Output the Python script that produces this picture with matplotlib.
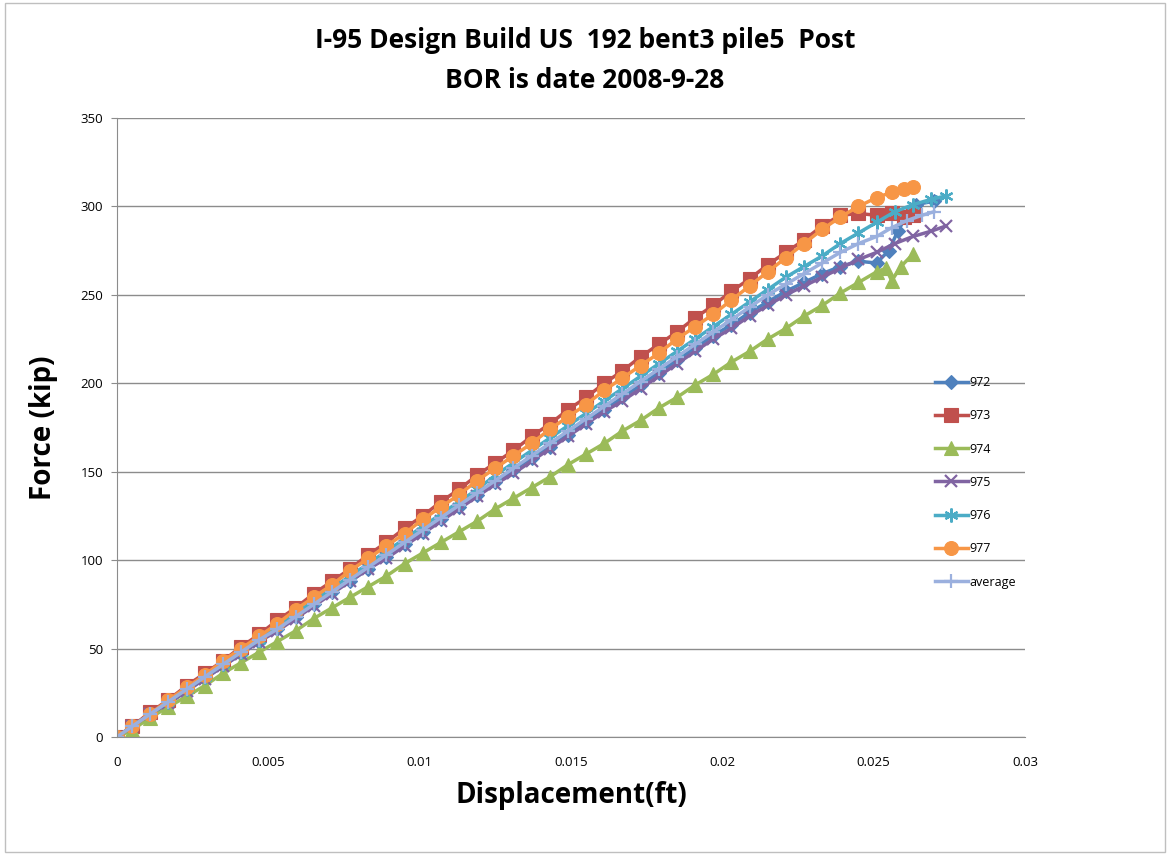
import matplotlib
matplotlib.use("Agg")
import matplotlib.pyplot as plt
from matplotlib.patches import Rectangle
from matplotlib.ticker import FuncFormatter, MultipleLocator

# displacement (ft) shared by all gauges up to 0.0251, then each gauge has its own tail
DISP_COMMON = [0, 0.0005, 0.0011, 0.0017, 0.0023, 0.0029, 0.0035, 0.0041, 0.0047, 0.0053,
               0.0059, 0.0065, 0.0071, 0.0077, 0.0083, 0.0089, 0.0095, 0.0101, 0.0107, 0.0113,
               0.0119, 0.0125, 0.0131, 0.0137, 0.0143, 0.0149, 0.0155, 0.0161, 0.0167, 0.0173,
               0.0179, 0.0185, 0.0191, 0.0197, 0.0203, 0.0209, 0.0215, 0.0221, 0.0227, 0.0233,
               0.0239, 0.0245, 0.0251]

TAIL_972 = [0.0255, 0.0258, 0.0261, 0.0264, 0.0270]
F_972 = [0, 5, 12, 19, 26, 33, 40, 47, 54, 61, 68, 75, 82, 88, 95, 102, 109, 116, 123, 130,
         137, 144, 151, 158, 164, 171, 178, 185, 192, 199, 206, 213, 220, 227, 233, 240, 246,
         252, 257, 262, 266, 269, 268,
         275, 286, 295, 301, 303]

TAIL_973 = [0.0256, 0.0260, 0.0263]
F_973 = [0, 6, 14, 21, 29, 36, 43, 51, 58, 66, 73, 81, 88, 95, 103, 110, 118, 125, 133, 140,
         148, 155, 162, 170, 177, 185, 192, 200, 207, 215, 222, 229, 237, 244, 252, 259, 267,
         274, 281, 289, 295, 296, 295,
         296, 294, 295]

TAIL_974 = [0.0254, 0.0256, 0.0259, 0.0263]
F_974 = [0, 4, 11, 17, 23, 29, 36, 42, 48, 54, 60, 67, 73, 79, 85, 91, 98, 104, 110, 116,
         122, 129, 135, 141, 147, 154, 160, 166, 173, 179, 186, 192, 199, 205, 212, 218, 225,
         231, 238, 244, 251, 257, 263,
         265, 258, 266, 273]

TAIL_975 = [0.0257, 0.0263, 0.0269, 0.0274]
F_975 = [0, 6, 13, 19, 26, 33, 40, 47, 54, 60, 67, 74, 81, 88, 95, 101, 108, 115, 122, 129,
         136, 143, 149, 156, 163, 170, 177, 184, 190, 197, 204, 211, 218, 225, 231, 238, 244,
         250, 255, 260, 265, 270, 274,
         279, 283, 286, 289]

TAIL_976 = [0.0257, 0.0263, 0.0269, 0.0274]
F_976 = [0, 6, 13, 20, 27, 34, 41, 48, 55, 63, 70, 77, 84, 91, 98, 105, 112, 119, 126, 133,
         140, 148, 155, 162, 169, 176, 183, 190, 197, 204, 211, 218, 225, 232, 239, 246, 253,
         260, 266, 272, 279, 285, 291,
         297, 301, 304, 306]

TAIL_977 = [0.0256, 0.0260, 0.0263]
F_977 = [0, 6, 13, 21, 28, 35, 43, 50, 57, 64, 72, 79, 86, 94, 101, 108, 115, 123, 130, 137,
         145, 152, 159, 166, 174, 181, 188, 196, 203, 210, 217, 225, 232, 239, 247, 255, 263,
         271, 279, 287, 294, 300, 305,
         308, 310, 311]

TAIL_AVG = [0.0256, 0.0261, 0.0266, 0.0270]
F_AVG = [0, 6, 13, 20, 27, 34, 41, 48, 55, 61, 68, 75, 82, 89, 96, 103, 110, 117, 124, 131,
         138, 145, 152, 159, 166, 173, 180, 187, 194, 201, 208, 215, 222, 229, 236, 243, 250,
         256, 262, 268, 274, 279, 283,
         288, 292, 295, 297]

LABELS = ["972", "973", "974", "975", "976", "977", "average"]
TAILS = [TAIL_972, TAIL_973, TAIL_974, TAIL_975, TAIL_976, TAIL_977, TAIL_AVG]
FORCES = [F_972, F_973, F_974, F_975, F_976, F_977, F_AVG]

COLORS = ["#4F81BD", "#C0504D", "#9BBB59", "#8064A2", "#4BACC6", "#F79646", "#9BB0DE"]
MARKERS = ["D", "s", "^", "x", (6, 2, 0), "o", "+"]
MSIZES = [7, 10, 10, 9, 10, 10, 10]

plt.rcParams["font.family"] = ["Open Sans", "DejaVu Sans"]

fig = plt.figure(figsize=(11.7, 8.55), dpi=100)
ax = fig.add_axes([0.1, 0.138, 0.776, 0.724])

for lab, tail, f, c, m, ms in zip(LABELS, TAILS, FORCES, COLORS, MARKERS, MSIZES):
    ax.plot(DISP_COMMON + tail, f, color=c, marker=m, markersize=ms, lw=2.5,
            markeredgewidth=1.6 if m in ("x", "+") or isinstance(m, tuple) else 0.8,
            markeredgecolor=c, label=lab)

ax.set_xlim(0, 0.03)
ax.set_ylim(0, 350)
ax.xaxis.set_major_locator(MultipleLocator(0.005))
ax.yaxis.set_major_locator(MultipleLocator(50))
ax.xaxis.set_major_formatter(FuncFormatter(lambda v, p: "%g" % round(v, 4)))
ax.grid(axis="y", color="#8C8C8C", lw=1)
ax.set_axisbelow(True)
for s in ("top", "right"):
    ax.spines[s].set_visible(False)
for s in ("left", "bottom"):
    ax.spines[s].set_color("#8C8C8C")
ax.tick_params(axis="y", length=4, color="#8C8C8C", labelsize=9.5, pad=6)
ax.tick_params(axis="x", length=0, labelsize=9.5, pad=14)

ax.set_xlabel("Displacement(ft)", fontsize=20, fontweight="bold", labelpad=8)
ax.set_ylabel("Force (kip)", fontsize=20, fontweight="bold", labelpad=16)
fig.suptitle("I-95 Design Build US  192 bent3 pile5  Post\nBOR is date 2008-9-28",
             fontsize=19, fontweight="bold", y=0.968, linespacing=1.6)

fig.legend(loc="upper left", bbox_to_anchor=(0.795, 0.566), frameon=False, fontsize=9,
           handlelength=2.6, labelspacing=1.62, handletextpad=0.1, borderaxespad=0)

fig.patches.append(Rectangle((0.004, 0.004), 0.992, 0.992, transform=fig.transFigure,
                             fill=False, ec="#BFBFBF", lw=1))

fig.savefig("out.png", dpi=100)
